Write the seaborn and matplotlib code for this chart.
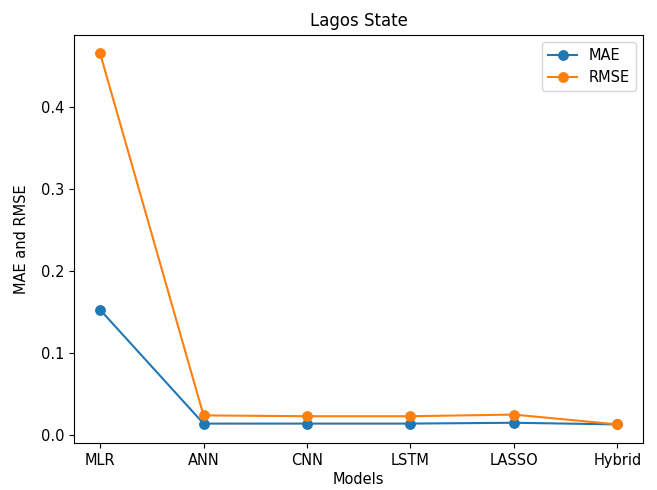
import matplotlib
matplotlib.use('Agg')
import pandas as pd
import seaborn as sns
from matplotlib import pyplot as plt

models = ['MLR', 'ANN', 'CNN', 'LSTM', 'LASSO', 'Hybrid']
mae = [0.153, 0.014, 0.014, 0.014, 0.015, 0.013]
rmse = [0.466, 0.024, 0.023, 0.023, 0.025, 0.013]

df = pd.DataFrame({'model': models, 'MAE': mae, 'RMSE': rmse})

fig, ax = plt.subplots(figsize=(6.57, 4.9), dpi=100)
fig.subplots_adjust(left=0.113, right=0.979, top=0.929, bottom=0.096)

sns.lineplot(data=df, x='model', y='MAE', marker='o', sort=False, color='#1f77b4',
             markeredgecolor='#1f77b4', markersize=7, label='MAE', ax=ax)
sns.lineplot(data=df, x='model', y='RMSE', marker='o', sort=False, color='#ff7f0e',
             markeredgecolor='#ff7f0e', markersize=7, label='RMSE', ax=ax)

ax.set_title('Lagos State')
ax.set_xlabel('Models', fontsize=10.5, labelpad=3)
ax.set_ylabel('MAE and RMSE', fontsize=10.5, labelpad=9)
ax.tick_params(labelsize=10.5)
ax.legend(loc='upper right', fontsize=10.5)

fig.savefig('out.png', dpi=100)
